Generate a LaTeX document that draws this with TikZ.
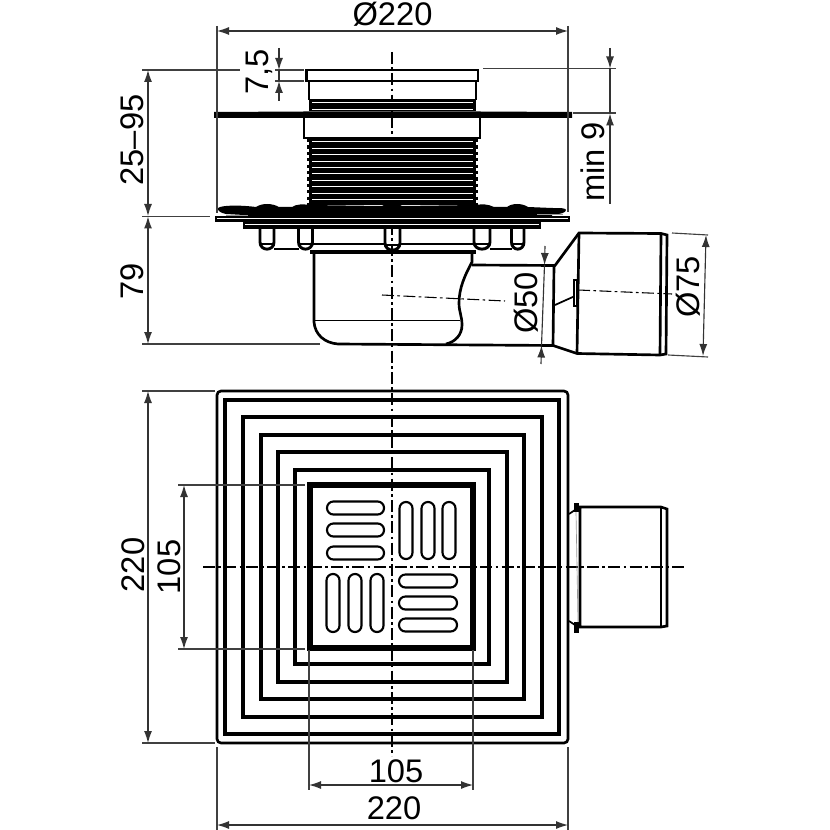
\documentclass[tikz,border=0pt]{standalone}
\usepackage{fontspec}
\setmainfont{Liberation Sans}
\usetikzlibrary{arrows.meta}
\tikzset{
  dimtext/.style={font=\fontsize{24.5}{27}\selectfont,inner sep=0pt},
  dimline/.style={line width=0.85pt,draw=black!80},
  extline/.style={line width=0.85pt,draw=black!75},
  arrowboth/.style={dimline,{Latex[length=9pt,width=6pt]}-{Latex[length=9pt,width=6pt]}},
  arrowend/.style={dimline,-{Latex[length=9pt,width=6pt]}},
  axisline/.style={line width=0.8pt,dash pattern=on 9pt off 2.5pt on 2pt off 2.5pt},
  outline/.style={line width=2pt},
  stud/.style={line width=2.2pt},
  terrace/.style={line width=3.2pt},
  slot/.style={line width=1.6pt,rounded corners=4.8pt},
  whitegap/.style={draw=white,line width=0.75pt}
}
\begin{document}
\begin{tikzpicture}[x=0.75pt,y=0.75pt,yscale=-1]
\useasboundingbox (0,0) rectangle (830,830);

%Axis lines
\draw [axisline] (392,52) -- (392,756);
\draw [axisline] (203,567) -- (684,567);
\draw [axisline] (382,295) -- (505,301);
\draw [axisline] (578,290) -- (672,294);

%Top collar
\draw [outline] (306.5,70) rectangle (478,81);
\draw [outline] (309,81) -- (309,100) (476,81) -- (476,100);
%Lower collar
\draw [outline] (304,118) -- (304,138) -- (480,138) -- (480,118);

%Upper thread
\fill (309,99) rectangle (476,111);
\draw [whitegap] (312,103) -- (473,103);
\draw [whitegap] (312,109.5) -- (473,109.5);
%Plate
\fill (214,112) -- (304,111.5) -- (480,111.5) -- (572,112) -- (572,118) -- (214,118) -- cycle;
%Lower thread
\fill (309,138) rectangle (476,207);
\draw [whitegap] (312,142) -- (473,142);
\draw [whitegap] (312,148.5) -- (473,148.5);
\draw [whitegap] (312,155) -- (473,155);
\draw [whitegap] (312,161.5) -- (473,161.5);
\draw [whitegap] (312,168) -- (473,168);
\draw [whitegap] (312,174) -- (473,174);
\draw [whitegap] (312,180.5) -- (473,180.5);
\draw [whitegap] (312,187) -- (473,187);
\draw [whitegap] (312,193.5) -- (473,193.5);
\draw [whitegap] (312,200) -- (473,200);
\draw [whitegap] (312,206) -- (384,206) (400,206) -- (473,206);
\draw [line width=1.5pt,dash pattern=on 2.4pt off 2.4pt] (308,139) -- (308,205);
\draw [line width=1.5pt,dash pattern=on 2.4pt off 2.4pt] (477,139) -- (477,205);

%Flange
\fill (218,208) .. controls (222,205) and (240,205) .. (256,207) .. controls (262,203) and (272,203) .. (279,207) -- (292,207) .. controls (296,204) and (304,204) .. (309,205) -- (382,206) .. controls (386,203) and (398,203) .. (402,206) -- (476,205) .. controls (482,204) and (488,204) .. (494,207) -- (507,207) .. controls (512,203) and (522,203) .. (528,207) -- (552,208) .. controls (560,208) and (566,208) .. (566,210) .. controls (566,213) and (560,214) .. (552,215) -- (552,218) -- (244,218) -- (244,215) -- (226,214) .. controls (220,213) and (217,210) .. (218,208) -- cycle;
\draw [draw=black!40,line width=0.8pt] (226,215.5) -- (248,215.5);
\draw [draw=black!40,line width=0.8pt] (537,214.5) -- (563,214.5);
\fill (215,216.5) rectangle (570,222);
\draw [whitegap] (217,219) -- (568,219);
\fill (243,222) rectangle (541,229);
\draw [whitegap] (245,224.5) -- (539,224.5);

%Studs
\draw [stud] (260,228) -- (260,242) .. controls (260,251.5) and (274,251.5) .. (274,242) -- (274,228);
\draw [stud] (298.5,228) -- (298.5,242) .. controls (298.5,251.5) and (312.5,251.5) .. (312.5,242) -- (312.5,228);
\draw [stud] (385,228) -- (385,243) .. controls (385,252.5) and (400,252.5) .. (400,243) -- (400,228);
\draw [stud] (474,228) -- (474,242) .. controls (474,251.5) and (490,251.5) .. (490,242) -- (490,228);
\draw [stud] (511.5,228) -- (511.5,242) .. controls (511.5,251.5) and (524,251.5) .. (524,242) -- (524,228);
\draw [line width=0.9pt] (260,244) -- (274,244) (298.5,244) -- (312.5,244) (385,245) -- (400,245) (474,244) -- (490,244) (511.5,244) -- (524,244);
\draw [outline] (274,249) -- (298.5,249) (490,249) -- (511.5,249);
\draw [line width=1.3pt] (312.5,244) -- (385,244) (400,244) -- (474,244);
\draw [line width=2.4pt] (310,252) -- (476,252);

%Bowl
\draw [outline] (314,253) -- (314,322) .. controls (315,335) and (325,343) .. (338,344) -- (553,345.5);
\draw [outline] (472,253) -- (472,262) .. controls (465,275) and (459,288) .. (459,303) .. controls (459,312) and (462,316) .. (462,325) .. controls (462,335) and (455,342) .. (446,344);
\draw [line width=1.3pt] (314,320.5) -- (460,320.5);
%Outlet
\draw [outline] (472,265) -- (555,265.5) -- (579,233) -- (661,233.5) -- (667,235) -- (666,354) -- (660,355) -- (577,353.5) -- (553,345.5) -- (554,265.5);
\draw [outline] (579,233) -- (577,353.5);
\draw [outline] (661,233.5) -- (660,355);
\draw [line width=1.3pt] (555,305) -- (575,296);
\draw [line width=1.3pt,fill=white] (574,280) rectangle (577,306);

%Terraces
\draw [outline,rounded corners=3pt] (217,391) rectangle (568,743);
\draw [terrace] (225,400) rectangle (559,734);
\draw [terrace] (243,417) rectangle (542,717);
\draw [terrace] (261,435) rectangle (524,699);
\draw [terrace] (278,452) rectangle (507,682);
\draw [terrace] (295,470) rectangle (489,664);
\draw [line width=3.8pt] (310,485) rectangle (473,648);

%Slots
\draw [slot] (327,501.5) rectangle (384,514.5);
\draw [slot] (327,523.5) rectangle (384,536.5);
\draw [slot] (327,546.5) rectangle (384,559.5);
\draw [slot] (399.5,502) rectangle (412.5,559);
\draw [slot] (421.5,502) rectangle (434.5,559);
\draw [slot] (442.5,502) rectangle (455.5,559);
\draw [slot] (326.5,574) rectangle (339.5,632);
\draw [slot] (348.5,574) rectangle (361.5,632);
\draw [slot] (370.5,574) rectangle (383.5,632);
\draw [slot] (399,574.5) rectangle (457,587.5);
\draw [slot] (399,596.5) rectangle (457,609.5);
\draw [slot] (399,618.5) rectangle (457,631.5);

%Side outlet
\draw [outline] (580,507) -- (661,507) -- (667,509) -- (667,626) -- (661,627) -- (580,627) -- cycle;
\draw [outline] (661,507) -- (661,627);
\fill (574,503) rectangle (579,512);
\fill (574,622) rectangle (579,633);
\draw [line width=1.3pt] (569,514) -- (575,510) (569,621) -- (575,625);
\draw [line width=0.5pt,draw=black!40] (576,512) -- (578,622);

%Extension lines
\draw [extline] (217,26) -- (217,213);
\draw [extline] (568,26) -- (568,212);
\draw [extline] (142,70) -- (240,70);
\draw [extline] (275,70) -- (304,70);
\draw [extline] (275,81) -- (304,81);
\draw [extline] (483,68.5) -- (616,68.5);
\draw [extline] (573,113) -- (616,113);
\draw [extline] (142,216.5) -- (210,216.5);
\draw [extline] (142,344) -- (320,344);
\draw [extline] (672,233) -- (708,235);
\draw [extline] (668,355) -- (708,357);
\draw [extline] (142,391) -- (215,391);
\draw [extline] (142,743) -- (215,743);
\draw [extline] (178,485) -- (305,485);
\draw [extline] (178,649) -- (305,649);
\draw [extline] (309,650) -- (309,790);
\draw [extline] (473,650) -- (473,790);
\draw [extline] (217,747) -- (217,830);
\draw [extline] (568,747) -- (568,830);

%Dimension lines
\draw [arrowboth] (217,31) -- (568,31);
\draw [arrowboth] (148,70) -- (148,216);
\draw [arrowboth] (148,216.5) -- (148,344);
\draw [arrowend] (279,48) -- (279,70);
\draw [arrowend] (279,101) -- (279,81);
\draw [dimline] (279,70) -- (279,81);
\draw [arrowend] (610,48) -- (610,68.5);
\draw [dimline] (610,68.5) -- (610,113);
\draw [arrowend] (610,204) -- (610,113.5);
\draw [arrowend] (545,246) -- (544.5,265);
\draw [arrowend] (541,364) -- (541.5,345.5);
\draw [dimline] (544.5,265) -- (541.5,345.5);
\draw [arrowboth] (706,235) -- (703,356);
\draw [arrowboth] (148,391) -- (148,743);
\draw [arrowboth] (184,485) -- (184,649);
\draw [arrowboth] (309,785) -- (473,785);
\draw [arrowboth] (217,825) -- (568,825);

% Text Node
\node [dimtext] (diaTop) at (392.5,14) {Ø220};
\node [dimtext,rotate=90] (heightTop) at (132,140) {25–95};
\node [dimtext,rotate=90] (heightRim) at (259,72) {7,5};
\node [dimtext,rotate=90] (minNine) at (593,162) {min 9};
\node [dimtext,rotate=90] (heightBowl) at (132,281) {79};
\node [dimtext,rotate=90] (diaFifty) at (526,303) {Ø50};
\node [dimtext,rotate=90] (diaSeventy) at (688,287) {Ø75};
\node [dimtext,rotate=90] (sideOuter) at (133,565) {220};
\node [dimtext,rotate=90] (sideInner) at (169,567) {105};
\node [dimtext] (baseInner) at (396,771) {105};
\node [dimtext] (baseOuter) at (394,808) {220};

\end{tikzpicture}
\end{document}
